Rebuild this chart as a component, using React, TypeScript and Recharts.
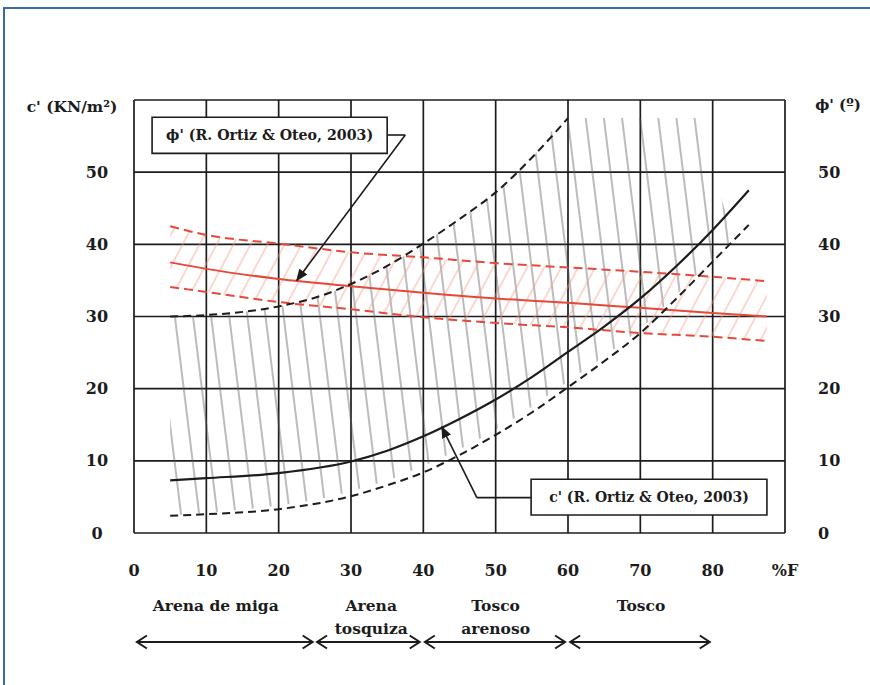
import React from 'react';
import {
  ComposedChart,
  Line,
  Area,
  XAxis,
  YAxis,
  CartesianGrid,
  ReferenceArea,
  ReferenceLine,
  ReferenceDot,
} from 'recharts';

// ---------- data ----------
const xTicks = [0, 10, 20, 30, 40, 50, 60, 70, 80, 90];
const xTickLabels = ['0', '10', '20', '30', '40', '50', '60', '70', '80', '%F'];
const yTicks = [0, 10, 20, 30, 40, 50, 60];
const yTickLabels = ['0', '10', '20', '30', '40', '50', ''];

// phi' (R. Ortiz & Oteo, 2003) – red, right axis
const phiX = [5, 10, 20, 30, 40, 50, 60, 70, 80, 87.5];
const phiMean = [37.5, 36.6, 35.2, 34.2, 33.3, 32.5, 31.9, 31.2, 30.5, 30.0];
const phiUpper = [42.5, 41.3, 40.1, 38.9, 38.2, 37.4, 36.8, 36.2, 35.5, 34.9];
const phiLower = [34.1, 33.4, 32.0, 31.0, 29.9, 29.1, 28.5, 27.7, 27.2, 26.6];

// c' (R. Ortiz & Oteo, 2003) – black, left axis
const cMeanX = [5, 10, 20, 30, 35, 40, 45, 50, 55, 60, 65, 70, 75, 80, 85];
const cMean = [7.3, 7.6, 8.3, 9.9, 11.4, 13.4, 15.8, 18.5, 21.6, 25.1, 28.6, 32.5, 37.0, 42.0, 47.5];
const cLowerX = [5, 10, 20, 30, 35, 40, 45, 50, 55, 60, 65, 70, 75, 80, 85];
const cLower = [2.4, 2.6, 3.3, 5.1, 6.6, 8.4, 10.8, 13.6, 16.7, 20.2, 23.8, 27.7, 32.5, 37.6, 42.7];
const cUpperX = [5, 10, 20, 25, 30, 35, 40, 45, 50, 55, 60];
const cUpper = [30.0, 30.2, 31.4, 32.6, 34.5, 37.0, 40.1, 43.5, 47.2, 52.0, 57.5];

// grey hatched zone (c')
const hatchX = [5, 10, 20, 25, 30, 35, 40, 45, 50, 55, 60, 65, 70, 75, 78, 81, 83];
const hatchLow = [2.4, 2.8, 3.8, 4.6, 5.8, 7.3, 9.3, 11.6, 14.3, 17.5, 21.0, 24.5, 28.3, 33.0, 36.0, 39.0, 40.5];
const hatchHigh = [30.0, 30.2, 31.4, 32.6, 34.5, 37.0, 40.1, 43.5, 47.2, 52.0, 57.5, 57.5, 57.5, 57.5, 57.5, 47.0, 40.6];

// soil zones under the axis
const zoneNames = [['Arena de miga'], ['Arena', 'tosquiza'], ['Tosco', 'arenoso'], ['Tosco']];
const zoneFrom = [0.4, 25.3, 40.2, 60.3];
const zoneTo = [24.7, 39.5, 59.6, 79.6];
const zoneLabelX = [11.3, 32.8, 50.0, 70.1];

const phiNote = "ϕ' (R. Ortiz & Oteo, 2003)";
const cNote = "c' (R. Ortiz & Oteo, 2003)";
const leftTitle = "c' (KN/m²)";
const rightTitle = "ϕ' (º)";

// ---------- layout / style ----------
const FONT = '"DejaVu Serif", "Liberation Serif", serif';
const INK = '#1c1c1c';
const RED = '#e5493a';

// annotation anchors in data units
const PHI_BOX = { x1: 2.5, x2: 35, y1: 52.6, y2: 57.6 };
const PHI_CALLOUT = [
  { x: 35, y: 55.15 },
  { x: 37.5, y: 55.15 },
  { x: 22.5, y: 35.0 },
];
const C_BOX = { x1: 54.9, x2: 87.5, y1: 2.5, y2: 7.45 };
const C_CALLOUT = [
  { x: 54.9, y: 4.9 },
  { x: 47.4, y: 4.9 },
  { x: 42.55, y: 14.7 },
];
const ROW1 = -10.1;
const ROW2 = -13.2;
const ARROW_ROW = -15.1;

const toPts = (xs: number[], ys: number[]) => xs.map((x, i) => ({ x, y: ys[i] }));
const toBand = (xs: number[], lo: number[], hi: number[]) =>
  xs.map((x, i) => ({ x, range: [lo[i], hi[i]] }));

const phiMeanData = toPts(phiX, phiMean);
const phiUpperData = toPts(phiX, phiUpper);
const phiLowerData = toPts(phiX, phiLower);
const phiBand = toBand(phiX, phiLower, phiUpper);
const cMeanData = toPts(cMeanX, cMean);
const cLowerData = toPts(cLowerX, cLower);
const cUpperData = toPts(cUpperX, cUpper);
const greyBand = toBand(hatchX, hatchLow, hatchHigh);

const textStyle = {
  fontFamily: FONT,
  fontWeight: 700,
  fill: INK,
};

const TICK_SIZE = 16;

const XTick = (props: any) => {
  const { x, y, payload } = props;
  const label = xTickLabels[xTicks.indexOf(payload.value)];
  return (
    <text x={x} y={y} textAnchor="middle" dominantBaseline="central" style={{ ...textStyle, fontSize: TICK_SIZE }}>
      {label}
    </text>
  );
};

const LeftTick = (props: any) => {
  const { x, y, payload } = props;
  const label = yTickLabels[yTicks.indexOf(payload.value)];
  return (
    <text x={x} y={y} textAnchor="middle" dominantBaseline="central" style={{ ...textStyle, fontSize: TICK_SIZE }}>
      {label}
    </text>
  );
};

const RightTick = (props: any) => {
  const { x, y, payload } = props;
  const label = yTickLabels[yTicks.indexOf(payload.value)];
  return (
    <text x={x} y={y} textAnchor="start" dominantBaseline="central" style={{ ...textStyle, fontSize: TICK_SIZE }}>
      {label}
    </text>
  );
};

const segShape = (start?: string, end?: string, width = 1.6) => (p: any) => (
  <line
    x1={p.x1}
    y1={p.y1}
    x2={p.x2}
    y2={p.y2}
    stroke={INK}
    strokeWidth={width}
    markerStart={start}
    markerEnd={end}
  />
);

const labelShape = (text: string) => (p: any) => (
  <text x={p.cx} y={p.cy} textAnchor="middle" dominantBaseline="central" style={{ ...textStyle, fontSize: 15.5 }}>
    {text}
  </text>
);

export default function App() {
  return (
    <div style={{ position: 'absolute', left: 0, top: 0, width: 870, height: 685, background: '#fff' }}>
      <div
        style={{
          position: 'absolute',
          left: 3,
          top: 7,
          right: 0,
          bottom: 0,
          borderTop: '2px solid #3a6aa3',
          borderLeft: '2px solid #3a6aa3',
        }}
      />
      <ComposedChart width={870} height={685} margin={{ top: 100, right: 25, bottom: 122, left: 74 }}>
        <defs>
          <pattern id="greyHatch" patternUnits="userSpaceOnUse" width="18" height="20" patternTransform="rotate(-7)">
            <line x1="9" y1="0" x2="9" y2="20" stroke="#555" strokeWidth="0.8" />
          </pattern>
          <pattern id="redHatch" patternUnits="userSpaceOnUse" width="15" height="20" patternTransform="rotate(28)">
            <line x1="6" y1="0" x2="6" y2="20" stroke="#f29a88" strokeWidth="0.8" />
          </pattern>
          <marker id="tip" markerUnits="userSpaceOnUse" markerWidth="12" markerHeight="10" refX="11" refY="5" orient="auto">
            <path d="M0,0 L12,5 L0,10 z" fill={INK} />
          </marker>
          <marker
            id="chev"
            markerUnits="userSpaceOnUse"
            markerWidth="14"
            markerHeight="16"
            refX="12"
            refY="8"
            orient="auto-start-reverse"
          >
            <path d="M2,1.5 L12,8 L2,14.5" fill="none" stroke={INK} strokeWidth="2" />
          </marker>
        </defs>

        <CartesianGrid yAxisId="c" stroke={INK} strokeWidth={1.7} />

        <XAxis
          type="number"
          dataKey="x"
          domain={[0, 90]}
          ticks={xTicks}
          interval={0}
          axisLine={false}
          tickLine={false}
          tickSize={0}
          tickMargin={37}
          height={30}
          tick={<XTick />}
        />
        <YAxis
          yAxisId="c"
          type="number"
          domain={[0, 60]}
          ticks={yTicks}
          interval={0}
          width={60}
          axisLine={false}
          tickLine={false}
          tickSize={0}
          tickMargin={37}
          tick={<LeftTick />}
        />
        <YAxis
          yAxisId="phi"
          orientation="right"
          type="number"
          domain={[0, 60]}
          ticks={yTicks}
          interval={0}
          width={60}
          axisLine={false}
          tickLine={false}
          tickSize={0}
          tickMargin={33}
          tick={<RightTick />}
        />

        <Area
          data={greyBand}
          dataKey="range"
          yAxisId="c"
          type="monotone"
          stroke="none"
          fill="url(#greyHatch)"
          fillOpacity={1}
          dot={false}
          activeDot={false}
          isAnimationActive={false}
        />
        <Area
          data={phiBand}
          dataKey="range"
          yAxisId="phi"
          type="monotone"
          stroke="none"
          fill="url(#redHatch)"
          fillOpacity={1}
          dot={false}
          activeDot={false}
          isAnimationActive={false}
        />

        <Line data={phiUpperData} dataKey="y" yAxisId="phi" type="monotone" stroke={RED} strokeWidth={2} strokeDasharray="9 5" dot={false} activeDot={false} isAnimationActive={false} />
        <Line data={phiLowerData} dataKey="y" yAxisId="phi" type="monotone" stroke={RED} strokeWidth={2} strokeDasharray="9 5" dot={false} activeDot={false} isAnimationActive={false} />
        <Line data={phiMeanData} dataKey="y" yAxisId="phi" type="monotone" stroke={RED} strokeWidth={2} dot={false} activeDot={false} isAnimationActive={false} />

        <Line data={cUpperData} dataKey="y" yAxisId="c" type="monotone" stroke={INK} strokeWidth={2} strokeDasharray="8 5" dot={false} activeDot={false} isAnimationActive={false} />
        <Line data={cLowerData} dataKey="y" yAxisId="c" type="monotone" stroke={INK} strokeWidth={2} strokeDasharray="8 5" dot={false} activeDot={false} isAnimationActive={false} />
        <Line data={cMeanData} dataKey="y" yAxisId="c" type="monotone" stroke={INK} strokeWidth={2.2} dot={false} activeDot={false} isAnimationActive={false} />

        {/* callouts */}
        <ReferenceLine yAxisId="c" segment={[PHI_CALLOUT[0], PHI_CALLOUT[1]]} ifOverflow="visible" shape={segShape()} />
        <ReferenceLine yAxisId="c" segment={[PHI_CALLOUT[1], PHI_CALLOUT[2]]} ifOverflow="visible" shape={segShape(undefined, 'url(#tip)')} />
        <ReferenceLine yAxisId="c" segment={[C_CALLOUT[0], C_CALLOUT[1]]} ifOverflow="visible" shape={segShape()} />
        <ReferenceLine yAxisId="c" segment={[C_CALLOUT[1], C_CALLOUT[2]]} ifOverflow="visible" shape={segShape(undefined, 'url(#tip)')} />

        <ReferenceArea
          yAxisId="c"
          x1={PHI_BOX.x1}
          x2={PHI_BOX.x2}
          y1={PHI_BOX.y1}
          y2={PHI_BOX.y2}
          fill="#fff"
          fillOpacity={1}
          stroke={INK}
          strokeWidth={1.6}
          ifOverflow="visible"
          label={{ value: phiNote, position: 'center', fill: INK, fontSize: 14.2, fontWeight: 700, fontFamily: FONT }}
        />
        <ReferenceArea
          yAxisId="c"
          x1={C_BOX.x1}
          x2={C_BOX.x2}
          y1={C_BOX.y1}
          y2={C_BOX.y2}
          fill="#fff"
          fillOpacity={1}
          stroke={INK}
          strokeWidth={1.6}
          ifOverflow="visible"
          label={{ value: cNote, position: 'center', fill: INK, fontSize: 14, fontWeight: 700, fontFamily: FONT }}
        />

        {/* soil zones */}
        {zoneFrom.map((from, i) => (
          <ReferenceLine
            key={`z${i}`}
            yAxisId="c"
            segment={[
              { x: from, y: ARROW_ROW },
              { x: zoneTo[i], y: ARROW_ROW },
            ]}
            ifOverflow="visible"
            shape={segShape('url(#chev)', 'url(#chev)', 2)}
          />
        ))}
        {zoneNames.map((lines, i) =>
          lines.map((t, j) => (
            <ReferenceDot
              key={`l${i}-${j}`}
              yAxisId="c"
              x={zoneLabelX[i]}
              y={j === 0 ? ROW1 : ROW2}
              r={0}
              ifOverflow="visible"
              shape={labelShape(t)}
            />
          ))
        )}

        <text x={72} y={106} textAnchor="middle" dominantBaseline="central" style={{ ...textStyle, fontSize: 15.5 }}>
          {leftTitle}
        </text>
        <text x={838} y={105} textAnchor="middle" dominantBaseline="central" style={{ ...textStyle, fontSize: 15 }}>
          {rightTitle}
        </text>
      </ComposedChart>
    </div>
  );
}
